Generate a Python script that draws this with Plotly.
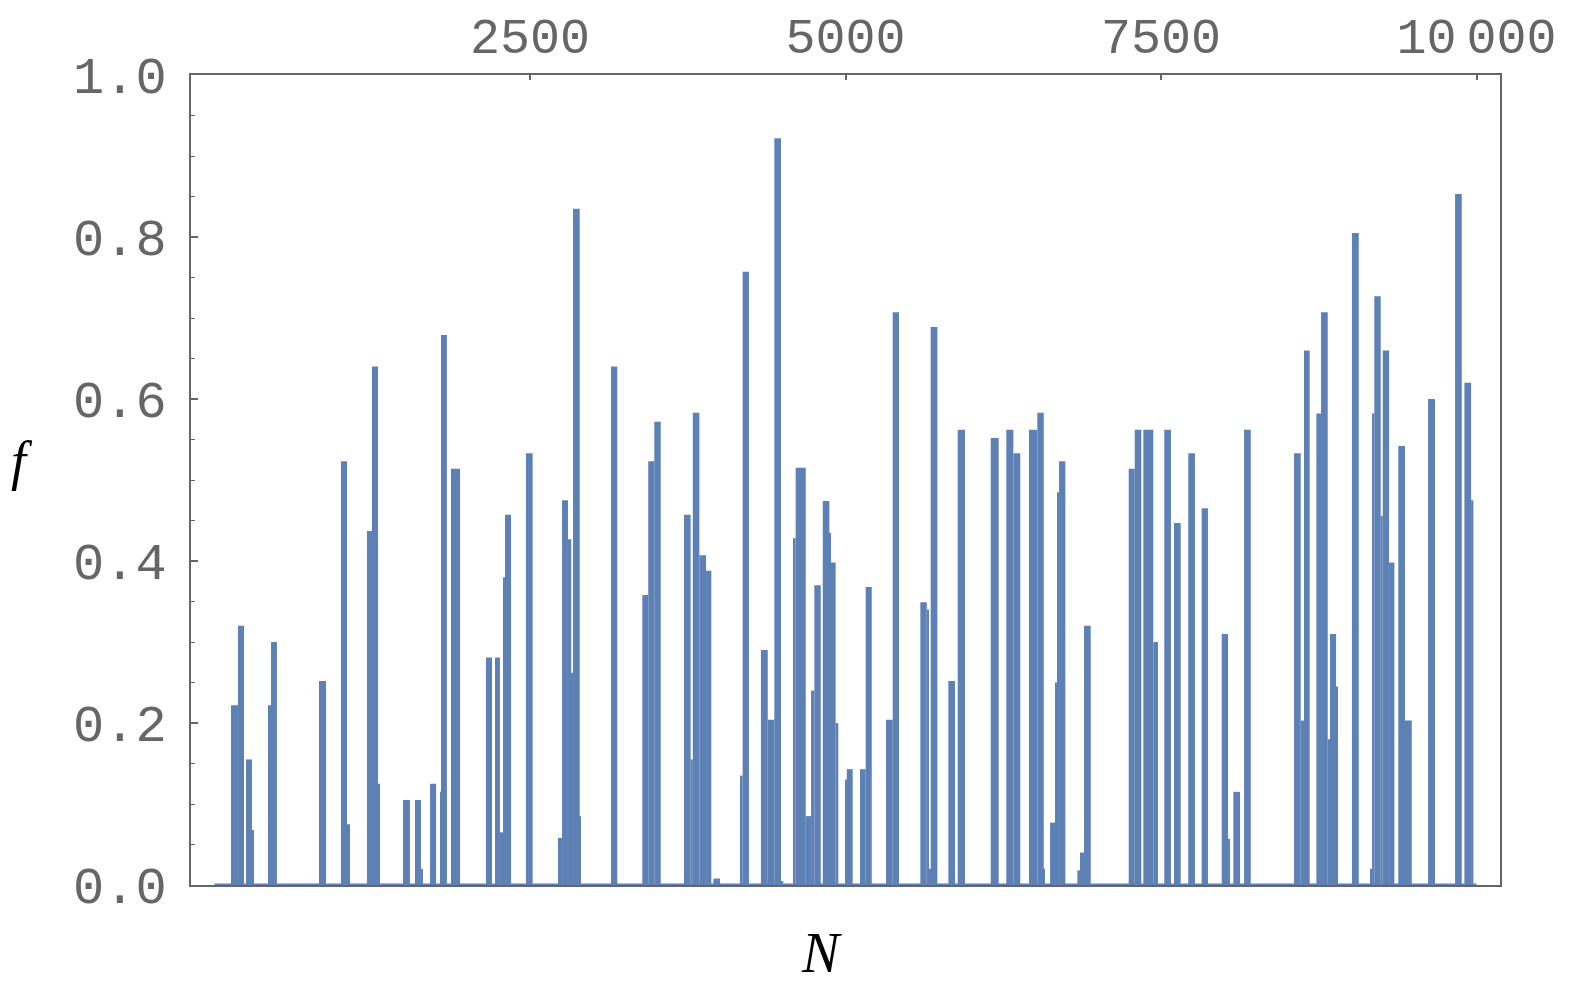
import plotly.graph_objects as go

# Mathematica-style default blue and frame grey
BAR_COLOR = "#5E81B5"
FRAME_COLOR = "#666666"

# Step segments: start N, end N, value f
SEG_START = [131, 186, 250, 297, 424, 448, 828, 1002, 1050, 1208, 1248, 1296,
             1494, 1589, 1636, 1708, 1787, 1795, 1874, 2151, 2223, 2262, 2286, 2302,
             2468, 2722, 2754, 2801, 2827, 2841, 2894, 3142, 3390, 3437, 3485,
             3720, 3773, 3790, 3842, 3895, 3953, 4164, 4185, 4330, 4384, 4436, 4489,
             4590, 4605, 4685, 4727, 4753, 4820, 4872, 4885, 4922, 4996, 5010,
             5115, 5160, 5321, 5374, 5593, 5644, 5662, 5675, 5815, 5889, 6151,
             6274, 6330, 6454, 6520, 6571, 6621, 6660, 6678, 6692, 6837, 6858, 6890,
             7244, 7292, 7360, 7439, 7526, 7603, 7716, 7822, 7981, 8031, 8073, 8158,
             8554, 8607, 8633, 8731, 8768, 8821, 8839, 8887, 9013, 9156, 9172, 9190,
             9241, 9257, 9307, 9380, 9433, 9616, 9830, 9904, 9957]
SEG_END = [186, 234, 297, 313, 448, 495, 884, 1050, 1074, 1248, 1296, 1311,
           1549, 1636, 1652, 1756, 1795, 1842, 1946, 2199, 2262, 2286, 2302, 2350,
           2521, 2754, 2801, 2827, 2841, 2894, 2904, 3192, 3437, 3485, 3536,
           3773, 3790, 3842, 3895, 3937, 4006, 4185, 4235, 4384, 4436, 4489, 4507,
           4605, 4685, 4727, 4753, 4804, 4872, 4885, 4922, 4943, 5010, 5057,
           5160, 5208, 5374, 5424, 5644, 5662, 5675, 5728, 5868, 5947, 6214,
           6330, 6385, 6520, 6571, 6581, 6660, 6678, 6692, 6742, 6858, 6890, 6943,
           7292, 7344, 7439, 7476, 7579, 7656, 7769, 7872, 8031, 8047, 8126, 8211,
           8607, 8633, 8678, 8768, 8821, 8839, 8887, 8897, 9067, 9172, 9190, 9241,
           9257, 9307, 9349, 9433, 9487, 9671, 9883, 9957, 9975]
SEG_F = [0.222, 0.32, 0.155, 0.068, 0.222, 0.30, 0.252, 0.523, 0.075, 0.437, 0.64, 0.125,
         0.105, 0.105, 0.02, 0.125, 0.115, 0.679, 0.514, 0.281, 0.281, 0.065, 0.38, 0.457,
         0.533, 0.058, 0.475, 0.427, 0.262, 0.835, 0.085, 0.64, 0.358, 0.523, 0.572,
         0.457, 0.155, 0.583, 0.407, 0.388, 0.008, 0.135, 0.757, 0.29, 0.204, 0.922, 0.005,
         0.428, 0.515, 0.085, 0.24, 0.37, 0.474, 0.435, 0.398, 0.2, 0.13, 0.143,
         0.143, 0.368, 0.204, 0.707, 0.349, 0.34, 0.02, 0.689, 0.252, 0.562, 0.552,
         0.562, 0.533, 0.562, 0.583, 0.02, 0.077, 0.25, 0.485, 0.523, 0.018, 0.04, 0.32,
         0.514, 0.562, 0.562, 0.30, 0.562, 0.447, 0.533, 0.465, 0.31, 0.057, 0.115, 0.562,
         0.533, 0.203, 0.66, 0.582, 0.707, 0.18, 0.31, 0.245, 0.805, 0.02, 0.582, 0.727,
         0.456, 0.66, 0.398, 0.542, 0.203, 0.6, 0.853, 0.62, 0.475]

# zero baseline drawn across the sampled range
BASE_N = [0, 10000]
BASE_F = [0, 0]

X_TICKS = [2500, 5000, 7500, 10000]
X_TICK_TEXT = ["2500", "5000", "7500", "10\u2009000"]

centers = [(a + b) / 2 for a, b in zip(SEG_START, SEG_END)]
widths = [b - a for a, b in zip(SEG_START, SEG_END)]

fig = go.Figure()
fig.add_trace(go.Scatter(x=BASE_N, y=BASE_F, mode="lines",
                         line=dict(color=BAR_COLOR, width=3), hoverinfo="skip"))
fig.add_trace(go.Bar(x=centers, y=SEG_F, width=widths,
                     marker=dict(color=BAR_COLOR, line=dict(width=0))))

tick_font = dict(family="Liberation Mono", size=52, color=FRAME_COLOR)
top_font = dict(family="Liberation Mono", size=50, color=FRAME_COLOR)

# the page body keeps its 8px default margin on the top/left, so offset the margins
fig.update_layout(
    width=1563, height=978,
    margin=dict(l=183, r=71, t=67, b=101),
    paper_bgcolor="white",
    plot_bgcolor="white",
    showlegend=False,
    xaxis=dict(
        range=[-186, 10186], side="top", automargin=False,
        showline=True, mirror=True, linecolor=FRAME_COLOR, linewidth=2,
        showgrid=False, zeroline=False,
        ticks="inside", ticklen=5, tickwidth=1.5, tickcolor=FRAME_COLOR,
        tickvals=X_TICKS, ticktext=X_TICK_TEXT,
        tickfont=top_font, ticklabelstandoff=0,
    ),
    yaxis=dict(
        range=[0, 1], automargin=False,
        showline=True, mirror=True, linecolor=FRAME_COLOR, linewidth=2,
        showgrid=False, zeroline=False,
        ticks="inside", ticklen=7, tickwidth=1.5, tickcolor=FRAME_COLOR,
        dtick=0.2, tick0=0, tickformat=".1f",
        tickfont=tick_font, ticklabelstandoff=12,
        minor=dict(ticks="inside", ticklen=4, tickwidth=1, tickcolor=FRAME_COLOR, dtick=0.05),
    ),
)

fig.add_annotation(text="<i>N</i>", xref="paper", yref="paper", x=0.482, y=-0.1235,
                   xanchor="center", yanchor="bottom", showarrow=False, borderpad=0,
                   font=dict(family="Liberation Serif", size=56, color="black"))
fig.add_annotation(text="<i>f</i>", xref="paper", yref="paper", x=-0.1385, y=0.523,
                   xanchor="left", yanchor="middle", showarrow=False, borderpad=0,
                   font=dict(family="Liberation Serif", size=54, color="black"))

fig.write_html("out.html")
